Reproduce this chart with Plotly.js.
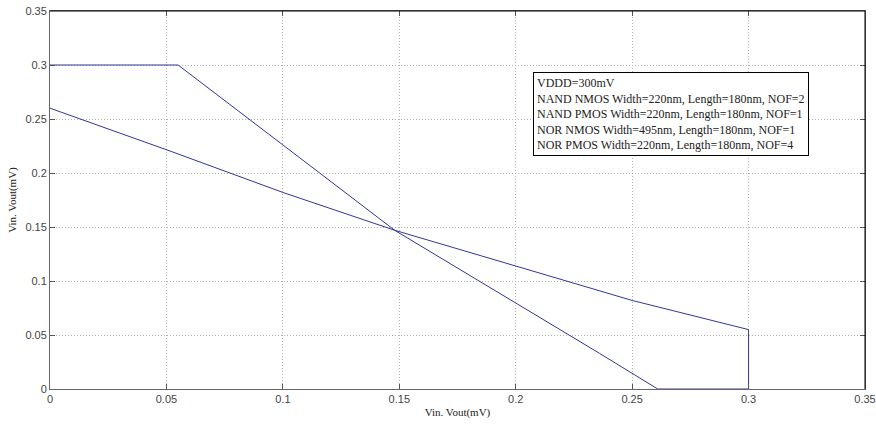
<!DOCTYPE html>
<html>
<head>
<meta charset="utf-8">
<script src="https://cdn.plot.ly/plotly-3.0.1.min.js"></script>
<style>html,body{margin:0;padding:0;background:#fff;}#chart{width:876px;height:424px;}</style>
</head>
<body>
<div id="chart"></div>
<script>
// Curve 1 (steep transfer curve)
const curve1X = [0, 0.055, 0.1, 0.148, 0.236, 0.261, 0.3];
const curve1Y = [0.3, 0.3, 0.226, 0.147, 0.033, 0, 0];
// Curve 2 (shallow transfer curve)
const curve2X = [0, 0.052, 0.1, 0.148, 0.25, 0.3, 0.3];
const curve2Y = [0.26, 0.22, 0.182, 0.147, 0.082, 0.055, 0];
// Ticks
const tickVals = [0, 0.05, 0.1, 0.15, 0.2, 0.25, 0.3, 0.35];
const tickText = ['0', '0.05', '0.1', '0.15', '0.2', '0.25', '0.3', '0.35'];
const noteLines = [
  'VDDD=300mV',
  'NAND NMOS Width=220nm, Length=180nm, NOF=2',
  'NAND PMOS Width=220nm, Length=180nm, NOF=1',
  'NOR NMOS Width=495nm, Length=180nm, NOF=1',
  'NOR PMOS Width=220nm, Length=180nm, NOF=4'
];

const lineColor = '#34349a';
const traces = [
  {x: curve1X, y: curve1Y, type: 'scatter', mode: 'lines', line: {color: lineColor, width: 1}, showlegend: false, hoverinfo: 'skip'},
  {x: curve2X, y: curve2Y, type: 'scatter', mode: 'lines', line: {color: lineColor, width: 1}, showlegend: false, hoverinfo: 'skip'}
];

const axisCommon = {
  range: [0, 0.35],
  tickvals: tickVals,
  ticktext: tickText,
  ticks: 'inside',
  ticklen: 5,
  tickcolor: '#555',
  showline: true,
  linecolor: '#666',
  linewidth: 1,
  mirror: 'ticks',
  showgrid: true,
  gridcolor: '#b4b4b4',
  griddash: '1px,2px',
  gridwidth: 1,
  zeroline: false,
  tickfont: {family: 'Liberation Sans, Arial, sans-serif', size: 11, color: '#444'}
};

const layout = {
  width: 876,
  height: 424,
  margin: {l: 50, r: 11, t: 11, b: 35},
  paper_bgcolor: '#fff',
  plot_bgcolor: '#fff',
  xaxis: Object.assign({}, axisCommon, {
    title: {text: 'Vin. Vout(mV)', font: {family: 'Liberation Serif, Times New Roman, serif', size: 11, color: '#222'}, standoff: 4}
  }),
  yaxis: Object.assign({}, axisCommon, {
    title: {text: 'Vin. Vout(mV)', font: {family: 'Liberation Serif, Times New Roman, serif', size: 11, color: '#222'}, standoff: 6}
  }),
  shapes: [
    {type: 'line', xref: 'paper', yref: 'paper', x0: 0, x1: 1, y0: 1, y1: 1, line: {color: '#000', width: 1}},
    {type: 'line', xref: 'paper', yref: 'paper', x0: 1, x1: 1, y0: 0, y1: 1, line: {color: '#000', width: 1}}
  ],
  annotations: [{
    xref: 'paper', yref: 'paper',
    x: (533 - 50) / 815, y: (389 - 72) / 378,
    xanchor: 'left', yanchor: 'top',
    text: noteLines.join('<br>'),
    align: 'left',
    showarrow: false,
    bgcolor: '#fff',
    bordercolor: '#000',
    borderwidth: 1,
    borderpad: 3,
    font: {family: 'Liberation Serif, Times New Roman, serif', size: 12, color: '#222'}
  }]
};

Plotly.newPlot('chart', traces, layout, {displayModeBar: false, staticPlot: true});
</script>
</body>
</html>
